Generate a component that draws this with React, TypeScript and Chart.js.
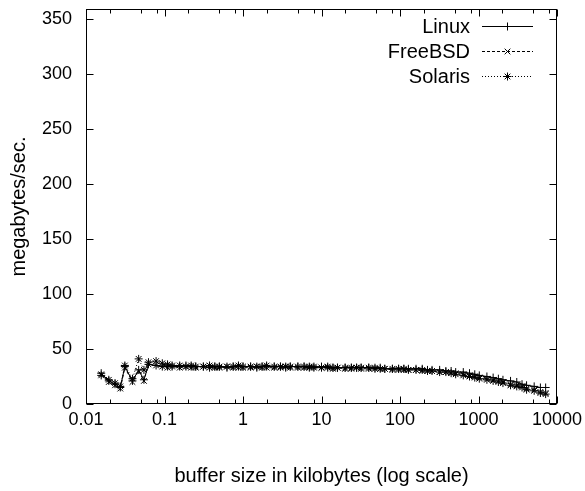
import React, { useEffect, useRef } from "react";
import { Chart, registerables } from "chart.js";

Chart.register(...registerables);

// Buffer sizes in bytes (x axis is in kilobytes)
const bufferSizesBytes = [
  16, 20, 24, 28,
  32, 40, 48, 56,
  64, 80, 96, 112,
  128, 160, 192, 224,
  256, 320, 384, 448,
  512, 640, 768, 896,
  1024, 1280, 1536, 1792,
  2048, 2560, 3072, 3584,
  4096, 5120, 6144, 7168,
  8192, 10240, 12288, 14336,
  16384, 20480, 24576, 28672,
  32768, 40960, 49152, 57344,
  65536, 81920, 98304, 114688,
  131072, 163840, 196608, 229376,
  262144, 327680, 393216, 458752,
  524288, 655360, 786432, 917504,
  1048576, 1310720, 1572864, 1835008,
  2097152, 2621440, 3145728, 3670016,
  4194304, 5242880, 6291456, 7340032,
];

const linuxMBps = [
  28, 21, 18, 15, 34, 21, 31, 22, 36, 35, 34, 34,
  34, 34, 35, 34, 34, 34, 33, 34, 34, 33, 34, 34,
  34, 34, 33, 34, 34, 34, 34, 33, 34, 34, 34, 33,
  33, 34, 33, 33, 33, 33, 33, 33, 33, 33, 32, 33,
  32, 32, 32, 32, 32, 32, 32, 31, 31, 31, 30, 30,
  29, 29, 28, 27, 26, 25, 24, 23, 22, 21, 20, 18,
  17, 16, 15, 15,
];

const freebsdMBps = [
  27, 20, 17, 14, 33, 20, 30, 21, 36, 35, 34, 33,
  34, 33, 34, 33, 33, 34, 33, 33, 33, 34, 33, 33,
  33, 33, 34, 33, 33, 33, 33, 34, 33, 33, 33, 33,
  33, 33, 33, 32, 33, 32, 32, 33, 32, 32, 32, 32,
  32, 31, 31, 31, 31, 31, 30, 30, 30, 29, 29, 28,
  28, 27, 26, 25, 24, 23, 22, 21, 20, 18, 17, 16,
  14, 13, 11, 10,
];

const solarisMBps = [
  26, 22, 19, 16, 35, 23, 41, 31, 38, 39, 37, 36,
  35, 35, 34, 35, 34, 34, 35, 34, 34, 34, 34, 35,
  34, 34, 34, 34, 35, 34, 34, 34, 34, 34, 34, 34,
  34, 33, 34, 33, 33, 33, 33, 33, 33, 33, 33, 32,
  32, 32, 32, 32, 31, 31, 31, 30, 30, 29, 29, 28,
  27, 26, 25, 24, 23, 22, 21, 20, 19, 17, 16, 15,
  13, 12, 10, 9,
];

const seriesNames = ["Linux", "FreeBSD", "Solaris"];
const xTickValues = [0.01, 0.1, 1, 10, 100, 1000, 10000];
const xTickLabels = ["0.01", "0.1", "1", "10", "100", "1000", "10000"];
const xMinorMultipliers = [2, 5, 8];
const yTickValues = [0, 50, 100, 150, 200, 250, 300, 350];
const xTitle = "buffer size in kilobytes (log scale)";
const yTitle = "megabytes/sec.";

const FONT = '"Liberation Sans", Arial, Helvetica, sans-serif';
const TICK_SIZE = 18;
const TEXT_SIZE = 20;

const dashes = [[], [3, 2], [1, 2]];
const pointStyles = ["cross", "crossRot", "star"];

function drawMarker(ctx: CanvasRenderingContext2D, kind: number, x: number, y: number, r: number) {
  ctx.beginPath();
  if (kind === 0 || kind === 2) {
    ctx.moveTo(x - r, y);
    ctx.lineTo(x + r, y);
    ctx.moveTo(x, y - r);
    ctx.lineTo(x, y + r);
  }
  if (kind === 1 || kind === 2) {
    const d = r * 0.7071;
    ctx.moveTo(x - d, y - d);
    ctx.lineTo(x + d, y + d);
    ctx.moveTo(x - d, y + d);
    ctx.lineTo(x + d, y - d);
  }
  ctx.stroke();
}

const framePlugin = {
  id: "gnuplotFrame",
  afterDraw(chart: any) {
    const { ctx, chartArea: a, scales } = chart;
    const xs = scales.x;
    const ys = scales.y;
    const L = Math.floor(a.left) + 0.5;
    const R = Math.floor(a.right) - 0.5;
    const T = Math.floor(a.top) + 0.5;
    const B = Math.floor(a.bottom) - 0.5;
    ctx.save();
    ctx.strokeStyle = "#000";
    ctx.fillStyle = "#000";
    ctx.lineWidth = 1;
    ctx.setLineDash([]);
    ctx.strokeRect(L, T, R - L, B - T);

    const major = 7;
    const minor = 4;
    ctx.beginPath();
    for (const v of yTickValues) {
      const py = Math.round(ys.getPixelForValue(v)) + 0.5;
      ctx.moveTo(L, py);
      ctx.lineTo(L + major, py);
      ctx.moveTo(R, py);
      ctx.lineTo(R - major, py);
    }
    for (const v of xTickValues) {
      const px = Math.round(xs.getPixelForValue(v)) + 0.5;
      ctx.moveTo(px, B);
      ctx.lineTo(px, B - major);
      ctx.moveTo(px, T);
      ctx.lineTo(px, T + major);
      if (v < 10000) {
        for (const m of xMinorMultipliers) {
          const qx = Math.round(xs.getPixelForValue(v * m)) + 0.5;
          ctx.moveTo(qx, B);
          ctx.lineTo(qx, B - minor);
          ctx.moveTo(qx, T);
          ctx.lineTo(qx, T + minor);
        }
      }
    }
    ctx.stroke();

    // legend
    ctx.font = `${TEXT_SIZE}px ${FONT}`;
    ctx.textAlign = "right";
    ctx.textBaseline = "middle";
    const rows = [26, 51, 76];
    seriesNames.forEach((name, i) => {
      const ry = rows[i];
      ctx.fillText(name, 470, ry + 1);
      ctx.setLineDash(dashes[i]);
      ctx.beginPath();
      ctx.moveTo(482, ry + 0.5);
      ctx.lineTo(533, ry + 0.5);
      ctx.stroke();
      ctx.setLineDash([]);
      drawMarker(ctx, i, 507.5, ry + 0.5, 4);
    });

    // titles
    ctx.textAlign = "center";
    ctx.textBaseline = "alphabetic";
    ctx.fillText(xTitle, (a.left + a.right) / 2, 482);
    ctx.translate(25, (a.top + a.bottom) / 2);
    ctx.rotate(-Math.PI / 2);
    ctx.fillText(yTitle, 0, 0);
    ctx.restore();
  },
};

export default function App() {
  const ref = useRef<HTMLCanvasElement | null>(null);

  useEffect(() => {
    document.body.style.margin = "0";
    const canvas = ref.current;
    if (!canvas) return;
    const xsKB = bufferSizesBytes.map((b) => b / 1024);
    const values = [linuxMBps, freebsdMBps, solarisMBps];
    const datasets = seriesNames.map((name, i) => ({
      label: name,
      data: xsKB.map((x, j) => ({ x, y: values[i][j] })),
      borderColor: "#000",
      backgroundColor: "#000",
      borderWidth: 1,
      borderDash: dashes[i],
      pointStyle: pointStyles[i],
      pointRadius: 4,
      pointBorderColor: "#000",
      pointBorderWidth: 1,
      pointHoverRadius: 4,
      tension: 0,
      fill: false,
    }));

    const chart = new Chart(canvas, {
      type: "line",
      data: { datasets },
      plugins: [framePlugin],
      options: {
        animation: false,
        responsive: false,
        devicePixelRatio: 1,
        events: [],
        layout: { padding: { top: 9, right: 28, left: 0, bottom: 0 } },
        plugins: {
          legend: { display: false },
          tooltip: { enabled: false },
          title: { display: false },
        },
        scales: {
          x: {
            type: "logarithmic",
            min: 0.01,
            max: 10000,
            grid: { display: false, drawTicks: false },
            border: { display: false },
            afterBuildTicks: (scale: any) => {
              scale.ticks = xTickValues.map((v) => ({ value: v }));
            },
            afterFit: (scale: any) => {
              scale.height = 87;
              scale.paddingLeft = 0;
              scale.paddingRight = 0;
            },
            ticks: {
              autoSkip: false,
              maxRotation: 0,
              minRotation: 0,
              padding: 5,
              color: "#000",
              font: { family: FONT, size: TICK_SIZE },
              callback: (v: any) => {
                const idx = xTickValues.indexOf(Number(v));
                return idx >= 0 ? xTickLabels[idx] : "";
              },
            },
          },
          y: {
            type: "linear",
            min: 0,
            max: 359,
            grid: { display: false, drawTicks: false },
            border: { display: false },
            afterBuildTicks: (scale: any) => {
              scale.ticks = yTickValues.map((v) => ({ value: v }));
            },
            afterFit: (scale: any) => {
              scale.width = 86;
              scale.paddingTop = 0;
              scale.paddingBottom = 0;
            },
            ticks: {
              padding: 14,
              color: "#000",
              font: { family: FONT, size: TICK_SIZE },
              callback: (v: any) => String(v),
            },
          },
        },
      },
    });
    return () => chart.destroy();
  }, []);

  return (
    <div style={{ width: 585, height: 491 }}>
      <canvas ref={ref} width={585} height={491} style={{ width: 585, height: 491, display: "block" }} />
    </div>
  );
}
